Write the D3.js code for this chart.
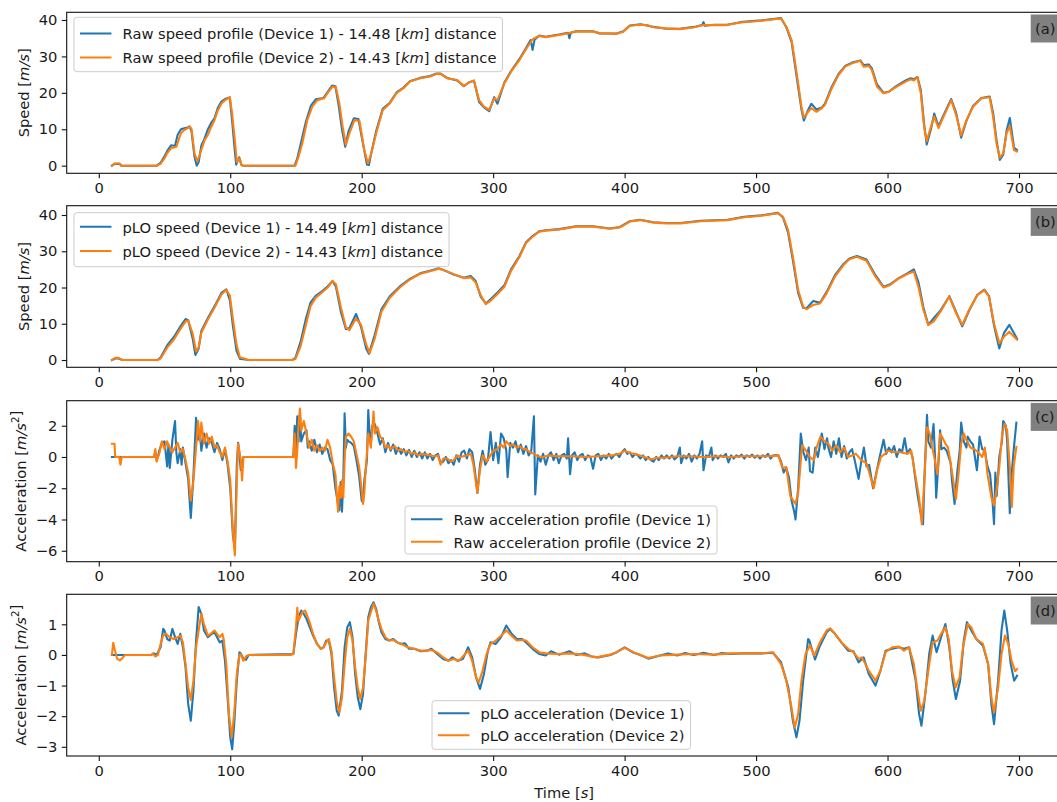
<!DOCTYPE html>
<html>
<head>
<meta charset="utf-8">
<script src="https://cdn.jsdelivr.net/npm/d3@7"></script>
<style>
  body { margin: 0; background: #fff; }
  svg text { font-family: "DejaVu Sans", sans-serif; fill: #1a1a1a; }
</style>
</head>
<body>
<svg id="chart" width="1057" height="802"></svg>
<script>
// ---------------- data ----------------
var timeTicks = [0, 100, 200, 300, 400, 500, 600, 700];
var speedTicks = [0, 10, 20, 30, 40];
var rawAccTicks = [-6, -4, -2, 0, 2];
var ploAccTicks = [-3, -2, -1, 0, 1];

// (a) raw speed [t, m/s]
var rawSpeedDev1 = [[10,0],[12,0.5],[16,0.5],[17,0],[44,0],[47,0.8],[50,2.6],[52,4.0],[55,5.6],[58,5.4],[60,8.5],[62.5,10.0],[65,10.3],[67.6,10.5],[69,10.8],[70.5,9.5],[72.8,2.5],[74.5,0.0],[76,1.0],[78,5.5],[80.5,7.5],[83,10.0],[85.6,11.8],[88,13.0],[90.7,16.0],[93.3,17.6],[96,18.3],[98.4,18.6],[99.7,18.5],[101.5,12],[103.5,4],[104.5,0.3],[106.8,2.3],[108.6,0.1],[110,0],[149,0],[151,2.0],[153.5,5.8],[157.5,12.0],[161.4,16.5],[165,18.2],[171,18.6],[174,20.2],[177.5,22],[180,21.8],[182.5,16.5],[185,10],[187.5,5.2],[190,9.5],[194,13.0],[197.5,12.8],[201,6],[204,0.3],[205.5,0.2],[207,3.0],[211,9.5],[216,15.6],[221.4,17.3],[226.5,20.1],[231.6,21.4],[236.7,23.2],[244.4,24.1],[252,24.6],[257,25.3],[260,25.3],[265,24.1],[272.6,23.4],[277.7,21.8],[281.6,22.9],[285.4,23.3],[289.3,17.5],[293,16],[297,15.0],[300.8,18.8],[303.3,17.0],[308.5,22.8],[313.6,26],[320,29.3],[325,32.3],[328.5,34.5],[330,31.8],[331.5,34.6],[335,35.7],[340,35.4],[350,36.0],[357,36.5],[358,35.0],[359,36.5],[363,36.9],[376,36.9],[381,36.3],[394,36.3],[399,36.9],[404,38.5],[412,38.8],[417,38.5],[422,38.1],[432,37.6],[442,37.6],[453,38.1],[459,38.6],[460,39.4],[461,38.4],[468,38.7],[478,38.7],[488,39.4],[504,39.9],[519,40.5],[523,38.0],[527,34.0],[529.4,28],[532,21.6],[534.5,15.5],[536.3,12.4],[539.6,15.3],[542,17.0],[546,15.4],[550,16.0],[552.4,17.0],[557.5,21.6],[562.7,25.2],[567.8,27.4],[573,28.3],[579.3,28.9],[581.8,27.6],[585.7,27.8],[588,26.8],[592,22.3],[597,20.0],[601,20.3],[606,21.7],[613.8,23.4],[617.6,24.0],[620,23.7],[622.7,24.4],[625.3,20.8],[627.8,11.5],[629.8,5.8],[633,10.0],[635.5,14.3],[638.8,10.8],[642,13.4],[648.4,18.3],[652.2,14.5],[656,7.7],[660,12.3],[665,16.4],[671.4,18.6],[677.7,19.0],[680.3,14.5],[682.9,7.0],[685.4,1.6],[688,3.0],[690.5,9.5],[693,13.1],[696.2,5.0],[698.5,4.3]];
var rawSpeedDev2 = [[10,0],[12,0.6],[16,0.6],[17,0],[44,0],[47,0.5],[50,2.0],[52,3.4],[55,4.8],[59,5.2],[62.5,8.9],[65,9.8],[67.6,10.3],[69,10.7],[70.5,10.2],[72.8,3.4],[75,1.2],[78,4.3],[80.5,7],[83,8.5],[85.6,10.7],[88,12.5],[90.7,15.3],[93.3,17.1],[96,18],[98.4,18.5],[99.7,18.9],[101.5,14],[103.5,7],[105,1.0],[107,2.0],[108.6,0.2],[110,0],[149.6,0],[152,2.5],[154.7,6],[158.6,12.5],[162.4,16.2],[166.3,18],[171.4,18.5],[174,19.9],[177.8,21.7],[180.4,21.5],[183,17.1],[185.5,10.7],[188,5.7],[190.6,8.9],[194.5,12.5],[198.3,12.3],[202,4.3],[204.7,0.6],[207.3,3.4],[211,8.9],[216,15.3],[221.4,17.1],[226.5,19.9],[231.6,21.2],[236.7,23.1],[244.4,24],[252,24.5],[257,25.2],[260,25.2],[265,24],[272.6,23.5],[277.7,21.9],[281.6,22.8],[285.4,23.4],[289.3,18],[293,16.2],[297,15.3],[300.8,18.5],[303.3,18],[308.5,22.6],[313.6,25.8],[320,29],[325,32],[330,34.7],[335,35.6],[340,35.3],[350,35.9],[358,36.4],[363,36.8],[376,36.8],[381,36.4],[394,36.2],[399,36.8],[404,38.4],[412,38.7],[417,38.6],[422,38],[432,37.7],[442,37.5],[453,38],[460,38.6],[468,38.6],[478,38.6],[488,39.3],[504,39.8],[519,40.4],[523,38.2],[527,34.5],[529.4,29],[532,22.6],[534.5,16.2],[536.3,13.2],[539.6,14.8],[542,15.8],[546,14.8],[550,15.8],[552.4,16.7],[557.5,21.2],[562.7,24.9],[567.8,27.2],[573,28.1],[579.3,28.8],[581.8,27.2],[585.7,27.4],[588,26.3],[592,21.7],[597,19.9],[601,20.3],[606,21.5],[613.8,23.1],[617.6,23.7],[620,23.4],[622.7,24.3],[625.3,19.9],[627.8,10.7],[629.8,6.8],[633,10.7],[635.5,13.5],[638.8,10.3],[642,13],[648.4,18],[652.2,13.9],[656,8.3],[660,12.5],[665,16.2],[671.4,18.5],[677.7,18.8],[680.3,13.5],[682.9,6.1],[685.4,2.2],[688,3.4],[690.5,8.9],[693,10.9],[696.2,4.3],[698.5,3.9]];

// (b) pLO speed [t, m/s]
var ploSpeedDev1 = [[10,0],[12.5,0.4],[15,0.4],[18,0],[44.6,0],[47,0.7],[52,4.0],[57.4,6.5],[62.5,9.5],[66,11.3],[68,11.0],[71.5,5.8],[73.5,1.4],[76,3.2],[78,8.0],[83,11.6],[88,14.8],[93.3,18.5],[97,19.5],[99.7,16.5],[102,9.5],[104.8,2.5],[107.4,0.3],[110,0.2],[113.8,0],[147,0],[149.6,0.6],[153.5,5.0],[157.3,11.0],[161,15.8],[165,17.7],[170,19.0],[174,20.3],[177.8,21.8],[180.4,20.2],[184.2,13.2],[188,8.5],[190.6,8.8],[195.7,12.7],[199.6,9.0],[203.4,3.2],[205.5,1.7],[209.8,6.8],[215,14.0],[221.4,17.6],[229,20.3],[236.7,22.4],[244.4,23.9],[252,24.6],[258.5,25.3],[262.4,24.8],[270,23.6],[277.7,22.7],[282.9,23.2],[286.7,21.8],[290.5,17.5],[294.4,15.6],[298.2,16.8],[303.3,18.6],[308.5,20.6],[313.6,25.0],[320,28.7],[325,32.5],[330,34.2],[335,35.5],[340,35.8],[350.4,36.1],[363,36.9],[376,36.9],[388.7,36.3],[396.4,36.7],[404,38.3],[411.8,38.7],[422,38.0],[432,37.8],[442.5,37.8],[457.8,38.4],[478.3,38.7],[491,39.5],[503.8,39.9],[516.6,40.6],[520.5,39.3],[524.3,35.2],[528,27.5],[532,18.5],[535.8,14.4],[538.4,14.3],[543.5,16.3],[548.6,15.8],[553.7,18.8],[560,23.4],[566.5,26.5],[571,28.0],[576.7,28.7],[584,27.7],[590.8,23.4],[597,20.2],[602,20.9],[608.5,22.6],[615,23.9],[620,25.0],[623.5,21.5],[627.3,14.5],[631,9.7],[635,11.5],[640,13.5],[647,17.6],[651.7,13.6],[656.8,9.3],[662,13.6],[668.3,18.0],[673.6,19.4],[677.2,17.6],[681,9.5],[685,3.2],[688.5,7.4],[692.6,9.7],[698.5,5.9]];
var ploSpeedDev2 = [[10,0],[12.5,0.6],[15,0.6],[18,0],[44.6,0],[47,0.4],[52,3.4],[57.4,5.8],[62.5,8.8],[66,10.6],[68,10.9],[71.5,7.2],[74,2.4],[76,3.5],[78,7.5],[83,11.2],[88,14.4],[93.3,18.1],[97,19.4],[99.7,17.8],[102,11.5],[104.8,4.2],[107.4,0.7],[110,0.5],[113.8,0],[147,0],[149.6,0.3],[153.5,3.8],[157.3,9.3],[161,14.8],[165,17.2],[170,18.7],[174,20.0],[177.8,21.8],[180.4,20.9],[184.2,14.5],[188,9.0],[190.6,8.2],[195.7,11.5],[199.6,9.6],[203.4,4.3],[206,1.9],[209.8,5.8],[215,13.3],[221.4,17.2],[229,20.0],[236.7,22.2],[244.4,23.8],[252,24.5],[258.5,25.2],[262.4,24.8],[270,23.7],[277.7,22.6],[282.9,22.8],[286.7,21.4],[290.5,17.9],[294.4,15.4],[298.2,16.4],[303.3,18.2],[308.5,20.2],[313.6,24.6],[320,28.4],[325,32.3],[330,34],[335,35.4],[340,35.7],[350.4,36],[363,36.8],[376,36.8],[388.7,36.2],[396.4,36.6],[404,38.2],[411.8,38.6],[422,37.9],[432,37.7],[442.5,37.7],[457.8,38.3],[478.3,38.6],[491,39.4],[503.8,39.8],[516.6,40.5],[520.5,39.5],[524.3,35.9],[528,28.5],[532,19.3],[535.8,14.7],[538.4,14.0],[543.5,15.2],[548.6,15.6],[553.7,18.4],[560,23],[566.5,26.2],[571,27.8],[576.7,28.5],[584,27.4],[590.8,23],[597,20],[602,20.7],[608.5,22.5],[615,23.7],[620,24.4],[623.5,20.2],[627.3,13.8],[631,9.7],[635,10.6],[640,13.2],[647,17.5],[651.7,13.3],[656.8,9.7],[662,13.8],[668.3,17.9],[673.6,19.3],[677.2,17.5],[681,10.1],[685,4.6],[688.5,6.4],[692.6,7.8],[698.5,5.6]];

// (c) raw acceleration [t, m/s^2]
var rawAccDev1 = [[10,0],[12,0],[15.5,0],[16.5,0],[42,0],[43,0.3],[44,-0.2],[45,0],[46,0.4],[48,0.9],[50,1.0],[52,-0.6],[53,0.8],[54,-0.7],[56,1.1],[58,2.3],[59,0.3],[60,-0.4],[62,0.5],[63,-0.5],[64,0.6],[66,-0.4],[68,-1.4],[70,-3.9],[72,-1.2],[74,2.5],[75.5,1.1],[77,1.6],[78,0.4],[80,1.5],[82,0.6],[84,1.2],[86,0.9],[88,0.3],[90,0.9],[92,0.5],[94,-0.2],[96,0.5],[98,-0.5],[100,-2.0],[102,-5.0],[103.5,-5.9],[105,-0.5],[106,0.9],[107,0.2],[108,-0.85],[109,-0.3],[110,0],[148,0],[149,2.0],[150,0.5],[151,2.6],[152,1.0],[153,2.8],[154,1.0],[156,1.5],[158,1.7],[159,0.6],[160,1.0],[162,0.4],[164,1.1],[166,0.3],[168,0.8],[170,0.2],[172,0.6],[174,0.5],[176,-0.2],[178,-0.5],[180,-2.0],[182,-3.0],[183,-3.4],[184,-1.6],[185,-3.5],[186,-1.5],[187,2.8],[188,0.6],[189,1.1],[190,1.0],[192,0.9],[194,0.7],[196,-0.2],[198,-1.2],[200,-2.8],[201,-2.9],[202,-1.5],[203,-0.85],[204,-0.2],[205,3.0],[206,1.5],[207,1.0],[208,2.0],[210,2.1],[212,1.5],[214,0.8],[216,1.2],[218,0.3],[220,0.9],[222,0.4],[224,0.8],[226,0.2],[228,0.6],[230,0.2],[232,0.5],[234,0.1],[236,0.45],[238,0.0],[240,0.4],[242,0.0],[244,0.3],[246,-0.1],[248,0.3],[250,-0.1],[252,0.2],[254,-0.2],[256,0.1],[258,0.2],[260,-0.4],[262,-0.3],[264,0.0],[266,-0.4],[268,-0.2],[270,-0.5],[272,0.1],[274,-0.3],[276,0.3],[278,0.4],[280,-0.1],[282,0.5],[284,0.3],[286,-0.8],[288,-2.3],[290,-0.5],[292,0.4],[294,-0.5],[296,-0.2],[298,1.6],[300,-0.2],[302,0.9],[304,-0.4],[306,1.5],[308,1.2],[310,0.4],[311,-1.3],[313,0.9],[315,0.6],[317,1.0],[319,0.3],[321,0.8],[323,0.2],[325,0.7],[327,0.1],[329,0.4],[331,2.6],[332,-2.4],[334,0.1],[336,-0.3],[338,0.2],[340,-0.5],[342,0.1],[344,0.3],[346,-0.2],[348,0.2],[350,-0.4],[352,0.1],[354,0.2],[356,-0.1],[357,1.2],[358.5,-1.1],[360,0.1],[362,0.3],[364,-0.2],[366,0.1],[368,0.2],[370,-0.2],[372,0.1],[374,0.0],[376,-0.75],[378,0.1],[380,0.2],[382,-0.2],[384,0.1],[386,-0.1],[388,0.2],[390,-0.1],[392,0.1],[394,0.2],[396,0.0],[398,0.3],[400,0.5],[402,0.2],[404,0.3],[406,0.0],[408,0.2],[410,0.1],[412,-0.1],[414,0.1],[416,-0.2],[418,0.0],[420,-0.2],[422,-0.3],[424,0.0],[426,-0.2],[428,0.1],[430,-0.1],[432,0.1],[434,-0.1],[436,0.1],[438,-0.15],[440,0.0],[442,0.6],[443,-0.4],[445,0.1],[447,-0.1],[449,0.2],[451,-0.3],[453,0.1],[455,-0.1],[457,0.2],[459,1.0],[460,-0.85],[462,0.1],[464,0.0],[466,0.6],[467,-0.2],[469,0.1],[471,-0.1],[473,0.1],[475,0.0],[477,0.2],[479,-0.35],[481,0.1],[483,-0.1],[485,0.1],[487,0.0],[489,0.15],[491,-0.1],[493,0.1],[495,0.0],[497,0.15],[499,-0.05],[501,0.1],[503,-0.1],[505,0.1],[507,0.0],[509,0.2],[511,-0.1],[513,0.1],[515,0.1],[517,0.1],[519,-0.3],[521,-1.0],[523,-0.7],[525,-1.3],[527,-2.8],[529,-3.5],[530,-4.0],[532,-2.0],[534,1.5],[536,0.3],[538,-0.2],[540,0.6],[541,-0.9],[543,-1.0],[545,0.6],[547,0.0],[549,1.0],[550,1.5],[552,0.5],[554,1.2],[555,0.6],[557,0.0],[559,1.0],[561,0.2],[563,1.2],[565,0.0],[567,0.7],[569,-0.1],[571,0.3],[573,0.5],[575,-0.2],[578,-1.4],[580,-0.3],[582,0.6],[584,-0.6],[586,-0.5],[589,-2.0],[591,-1.2],[594,0.0],[597,1.1],[599,0.2],[601,0.6],[603,0.3],[605,0.7],[607,0.0],[609,0.5],[611,0.3],[613,1.2],[615,0.2],[617,0.5],[619,0.0],[621,-1.3],[623,-2.5],[625,-3.5],[627,-4.3],[628,-1.5],[630,2.7],[631,1.0],[633,0.6],[635,2.1],[636,0.2],[637,-2.6],[639,0.0],[640,1.7],[641,0.5],[643,0.6],[645,0.4],[648,-0.4],[649,-1.5],[651,-3.0],[653,-1.0],[655,0.5],[656,2.2],[658,1.0],[660,0.6],[661,1.3],[663,1.0],[665,0.8],[668,-0.85],[670,1.3],[672,0.5],[674,0.4],[676,-0.6],[678,-1.1],[680,-3.0],[681,-4.3],[682,-1.0],[683,-2.5],[685,0.0],[687,1.0],[688,2.3],[690,2.0],[691,1.0],[693,-3.6],[694,-1.5],[696,0.5],[698,2.2]];
var rawAccDev2 = [[10,0.85],[12,0.85],[12.5,0],[15.5,0],[16.5,-0.5],[17.5,0],[42,0],[43,0.5],[44,-0.3],[45,0],[46,0.2],[48,1.0],[50,0.5],[52,1.0],[54,0.6],[56,0.3],[58,0.6],[60,0.9],[62,0.3],[64,0.5],[66,-0.2],[68,-1.0],[70,-2.8],[72,-1.5],[74,0.6],[75.5,2.3],[77,1.0],[78,2.2],[80,0.85],[82,1.5],[84,0.85],[86,1.3],[88,0.6],[90,0.75],[92,0.3],[94,0],[96,0.6],[98,-0.3],[100,-1.5],[102,-4.7],[103.5,-6.3],[105,-1.5],[106,0.85],[108,-0.2],[109,-1.5],[110,0],[148,0],[149,1.5],[150,-0.7],[151,0.4],[152,2.1],[153,3.1],[154,1.7],[156,2.3],[158,1.5],[160,0.6],[162,1.1],[164,0.4],[166,0.75],[168,0.4],[170,0.6],[172,0.4],[174,1.1],[176,0.6],[178,-0.4],[180,-1.1],[182,-3.5],[183,-1.9],[184,-2.6],[185,-1.5],[186,-2.6],[187,-0.2],[188,1.3],[190,1.5],[192,1.3],[194,1.0],[196,0.2],[198,-0.6],[200,-2.1],[201,-3.0],[202,-2.3],[203,-0.85],[205,1.5],[207,0.6],[209,2.9],[210,1.5],[212,1.9],[214,1.3],[216,1.1],[218,0.6],[220,0.75],[222,0.5],[225,0.7],[228,0.4],[230,0.5],[233,0.3],[235,0.4],[238,0.2],[240,0.3],[243,0.1],[245,0.2],[250,0.15],[255,0.05],[258,0.1],[260,-0.5],[262,-0.1],[265,-0.1],[268,-0.3],[270,-0.2],[273,0.1],[275,0.0],[280,0.1],[283,0.2],[285,-0.5],[288,-2.3],[290,-0.8],[292,0.1],[295,-0.3],[298,0.1],[300,0.4],[303,0.5],[306,0.8],[308,0.6],[310,1.0],[313,0.7],[315,0.8],[318,0.6],[320,0.7],[323,0.5],[325,0.5],[328,0.3],[331,0.2],[334,0.05],[338,0.0],[342,0.1],[350,0.05],[360,0.05],[370,0.0],[380,0.05],[390,0.1],[396,0.2],[400,0.4],[404,0.25],[410,0.15],[415,0.0],[420,-0.15],[425,-0.05],[430,-0.05],[440,0.05],[450,0.05],[460,0.0],[470,0.05],[480,0.0],[490,0.05],[500,0.05],[510,0.05],[517,0.1],[520,-0.7],[523,-0.65],[526,-2.5],[530,-3.0],[532,-2.3],[535,0.75],[538,0.4],[541,0.0],[544,-0.2],[546,0.6],[549,1.3],[552,1.0],[555,0.85],[558,0.4],[561,0.75],[564,0.3],[567,0.6],[570,0],[573,0.1],[576,0.2],[580,-0.2],[584,-0.4],[589.5,-2.0],[592,-0.85],[595,0],[598,0.2],[600,0.4],[605,0.3],[610,0.3],[615,0.2],[618,0.4],[621,-1.1],[624,-2.6],[626,-4.3],[628,-1.5],[630,1.9],[632,1.5],[634,0.6],[636,-0.2],[638,-1.1],[640,1.5],[642,1.2],[644,0.85],[646,0.6],[648,-0.4],[650,-1.5],[652,-2.7],[654,-1.1],[656,0.85],[658,1.5],[660,1.1],[663,0.6],[666,0.5],[669,0.3],[672,0],[674,0.6],[676,-1.1],[679,-2.6],[681,-3.1],[683,-2.1],[685,-0.65],[687,1.3],[689,2.1],[691,1.7],[693,-0.65],[694.5,-3.2],[696,-0.6],[698,0.65]];

// (d) pLO acceleration [t, m/s^2]
var ploAccDev1 = [[10,0],[40,0],[42,0.05],[44,0],[47,0.25],[49,0.85],[50,0.8],[52,0.52],[54,0.47],[56,0.85],[58,0.58],[60,0.36],[62,0.69],[64,0.25],[66,-0.4],[68,-1.6],[70,-2.15],[72,-1.17],[74,0.47],[76,1.56],[78,1.34],[80,0.8],[83,0.58],[86,0.69],[88,0.74],[90,0.58],[92,0.41],[94,0.47],[96,-0.19],[98,-1.39],[100,-2.69],[101.5,-3.08],[103,-2.26],[105,-0.84],[107,0.09],[108,0.05],[110,-0.13],[112,-0.16],[114,0],[148,0.03],[150,0.69],[152,1.23],[154,1.45],[156,1.34],[158,1.18],[160,0.96],[163,0.63],[166,0.36],[169,0.2],[171,0.25],[173,0.47],[175,0.47],[177,0.03],[179,-1.06],[181,-1.82],[182.5,-1.98],[185,-1.17],[187,0.25],[189,0.9],[191,1.07],[193,0.58],[195,-0.62],[197,-1.39],[199,-1.77],[201,-1.28],[203,0.03],[205,1.23],[207,1.56],[209,1.72],[211,1.5],[213,1.07],[215,0.74],[218,0.52],[221,0.47],[224,0.52],[227,0.41],[230,0.36],[233,0.38],[236,0.2],[240,0.2],[245,0.12],[250,0.14],[253,0.2],[257,0.05],[262,-0.13],[266,-0.19],[269,-0.08],[273,-0.19],[277,-0.13],[281,0.25],[284,-0.08],[287,-0.73],[290,-1.11],[293,-0.62],[296,0.14],[298,0.41],[302,0.36],[306,0.58],[310,0.96],[314,0.69],[318,0.52],[322,0.52],[325,0.41],[330,0.2],[335,0.03],[340,-0.02],[344,0.12],[350,0.01],[358,0.12],[363,0.0],[369.6,0.05],[375,-0.05],[380,-0.08],[389,0.0],[394,0.09],[400,0.25],[406.6,0.08],[412,0.0],[418,-0.12],[427,-0.02],[433,0.05],[440,-0.02],[446,0.06],[452.7,0.0],[460,0.07],[468,0.0],[474,0.06],[480.8,0.03],[490,0.05],[503.8,0.05],[512.8,0.07],[519,-0.24],[524.5,-1.06],[528,-2.15],[530.7,-2.69],[533,-2.15],[535.8,-0.84],[539.6,0.52],[540.4,0.49],[544.8,-0.15],[548.6,0.3],[553.7,0.74],[556.3,0.85],[560,0.69],[565,0.4],[570,0.14],[574,0.12],[578,-0.24],[581.8,-0.08],[585.7,-0.62],[590.8,-1.0],[594.6,-0.51],[598.5,0.14],[603.6,0.2],[608.7,0.25],[612.5,0.2],[616.4,0.25],[621.4,-0.84],[624,-1.93],[625.8,-2.31],[629,-1.17],[631.7,0.03],[634.3,0.63],[637.3,0.09],[640.7,0.58],[644,1.01],[647,0.25],[649.6,-0.84],[652,-1.44],[655.2,-0.84],[658,0.47],[660.4,1.07],[663.7,0.8],[667.5,0.52],[672.6,0.3],[676.5,-0.3],[679,-1.61],[681,-2.26],[684.1,-0.84],[686.7,0.8],[688.8,1.45],[691,0.8],[693.7,-0.3],[696.3,-0.84],[698.5,-0.68]];
var ploAccDev2 = [[10,0],[11,0.4],[12,0.2],[14,-0.13],[16,-0.18],[18,-0.1],[20,0],[40,0],[41,0.05],[43,-0.05],[45,0],[47,0.36],[49,0.63],[51,0.69],[54,0.58],[57,0.52],[60,0.58],[62,0.63],[64,0.41],[66,-0.3],[68,-1.06],[70,-1.47],[72,-0.84],[74,0.25],[76,0.8],[78,1.34],[80,1.01],[83,0.63],[85,0.69],[88,0.8],[90,0.69],[92,0.58],[94,0.69],[95,0.52],[97,-0.3],[99,-1.93],[101,-2.69],[103,-1.93],[105,-0.62],[107,0],[108,0.03],[110,-0.19],[112,-0.05],[114,0],[146,0],[148,0.03],[150,0.9],[151,1.54],[152,1.12],[153,1.23],[155,1.4],[157,1.45],[160,1.12],[163,0.69],[166,0.36],[169,0.2],[171,0.25],[173,0.41],[175,0.52],[177,0.14],[179,-0.73],[181,-1.5],[183,-1.88],[185,-1.39],[187,-0.3],[189,0.58],[191,0.85],[193,0.47],[195,-0.4],[197,-1.06],[199,-1.44],[201,-1.06],[203,-0.08],[205,1.12],[207,1.4],[209,1.67],[211,1.45],[213,1.12],[215,0.85],[218,0.58],[221,0.47],[224,0.49],[227,0.41],[230,0.36],[235,0.25],[240,0.2],[245,0.14],[250,0.14],[253,0.16],[257,0.09],[262,-0.08],[266,-0.19],[270,-0.13],[274,-0.19],[278,0],[281,0.14],[284,-0.19],[287,-0.73],[289,-0.9],[292,-0.51],[295,0.03],[298,0.36],[302,0.47],[306,0.63],[310,0.8],[314,0.63],[318,0.47],[322,0.49],[325,0.47],[330,0.25],[335,0.09],[340,0.05],[348,0.03],[358,0.05],[368,0.01],[378.5,-0.08],[389,0.01],[394,0.09],[400,0.23],[406.6,0.09],[418,-0.1],[427,-0.02],[440,0.01],[452.7,0.03],[468,0.01],[480.8,0.05],[503.8,0.05],[512.8,0.09],[519,-0.3],[523,-0.84],[526.9,-1.71],[529.4,-2.37],[532,-1.93],[534.5,-0.84],[537.6,0.03],[541,0.31],[544.2,-0.02],[548.6,0.41],[553.7,0.8],[556.3,0.87],[560,0.69],[565,0.41],[570,0.2],[574,0.09],[578,-0.13],[580.5,-0.08],[585.7,-0.51],[590.8,-0.84],[594.6,-0.51],[598.5,0.09],[603.6,0.25],[608.7,0.27],[612.5,0.14],[616.4,0.25],[620,-0.3],[622.8,-1.17],[625.3,-1.82],[627.9,-1.5],[631.7,-0.3],[634.3,0.41],[638,0.47],[640.7,0.69],[644,0.9],[646.5,0.52],[649,-0.51],[651.8,-1.06],[654.8,-0.73],[657.4,0.25],[661,1.01],[663.7,0.9],[667.5,0.52],[672.6,0.36],[676.5,-0.3],[679,-1.39],[681,-1.88],[684.1,-1.06],[686.7,0.03],[689.3,0.63],[691.8,0.36],[694.4,-0.19],[697,-0.53],[698.5,-0.46]];

var legendLabels = [
  ["Raw speed profile (Device 1) - 14.48 [*km*] distance", "Raw speed profile (Device 2) - 14.43 [*km*] distance"],
  ["pLO speed (Device 1) - 14.49 [*km*] distance", "pLO speed (Device 2) - 14.43 [*km*] distance"],
  ["Raw acceleration profile (Device 1)", "Raw acceleration profile (Device 2)"],
  ["pLO acceleration (Device 1)", "pLO acceleration (Device 2)"]
];
var panelTags = ["(a)", "(b)", "(c)", "(d)"];

// ---------------- layout ----------------
var svg = d3.select("#chart");
var colors = ["#1f77b4", "#ff7f0e"];
var FS = 14.7;
var tickLen = 4.9;

var x = d3.scaleLinear().domain([-24.4, 732.4]).range([66.7, 1061.6]);

var panels = [
  {top: 12.3, bottom: 173.3, ydom: [-2.09, 42.11], ticks: speedTicks, ylab: "Speed [*m/s*]", ylabX: 23,
   series: [rawSpeedDev1, rawSpeedDev2], leg: {x: 74, y: 17.3, h: 54.4, rows: [16.2, 40.2]}},
  {top: 205.7, bottom: 367.3, ydom: [-2.01, 42.57], ticks: speedTicks, ylab: "Speed [*m/s*]", ylabX: 23,
   series: [ploSpeedDev1, ploSpeedDev2], leg: {x: 74, y: 212.7, h: 54, rows: [14, 38.3]}},
  {top: 400.7, bottom: 561.7, ydom: [-6.70, 3.60], ticks: rawAccTicks, ylab: "Acceleration [*m/s*^2]", ylabX: 20,
   series: [rawAccDev1, rawAccDev2], leg: {x: 405, y: 506, h: 48, rows: [13.3, 35.7]}},
  {top: 594.3, bottom: 756, ydom: [-3.30, 1.98], ticks: ploAccTicks, ylab: "Acceleration [*m/s*^2]", ylabX: 20,
   series: [ploAccDev1, ploAccDev2], leg: {x: 432, y: 700.7, h: 48.6, rows: [12.6, 34.6]}}
];

// writes "a [*b*] c^2" as tspans: *..* italic, ^n superscript
function richText(sel, str) {
  var parts = str.split(/(\*[^*]+\*|\^\d)/).filter(function(s) { return s.length; });
  parts.forEach(function(p) {
    if (p[0] === "*") {
      sel.append("tspan").style("font-style", "italic").text(p.slice(1, -1));
    } else if (p[0] === "^") {
      sel.append("tspan").attr("dy", -5).style("font-size", (FS * 0.7) + "px").text(p.slice(1));
      sel.append("tspan").attr("dy", 5).text("");
    } else {
      sel.append("tspan").text(p);
    }
  });
}

var intFmt = d3.format("d");

panels.forEach(function(p, i) {
  var y = d3.scaleLinear().domain(p.ydom).range([p.bottom, p.top]);
  var g = svg.append("g");

  var line = d3.line()
    .x(function(d) { return x(d[0]); })
    .y(function(d) { return y(d[1]); });

  p.series.forEach(function(s, k) {
    g.append("path")
      .datum(s)
      .attr("d", line)
      .attr("fill", "none")
      .attr("stroke", colors[k])
      .attr("stroke-width", 2.1)
      .attr("stroke-linejoin", "round")
      .attr("stroke-linecap", "square");
  });

  // frame
  g.append("rect")
    .attr("x", x.range()[0]).attr("y", p.top)
    .attr("width", x.range()[1] - x.range()[0]).attr("height", p.bottom - p.top)
    .attr("fill", "none").attr("stroke", "#111").attr("stroke-width", 1.1);

  // axes
  var xa = g.append("g").attr("transform", "translate(0," + p.bottom + ")")
    .call(d3.axisBottom(x).tickValues(timeTicks).tickFormat(intFmt)
      .tickSizeInner(tickLen).tickSizeOuter(0).tickPadding(4.4));
  var ya = g.append("g").attr("transform", "translate(" + x.range()[0] + ",0)")
    .call(d3.axisLeft(y).tickValues(p.ticks).tickFormat(intFmt)
      .tickSizeInner(tickLen).tickSizeOuter(0).tickPadding(4.4));
  [xa, ya].forEach(function(a) {
    a.select(".domain").remove();
    a.selectAll(".tick line").attr("stroke", "#111").attr("stroke-width", 1.1);
    a.selectAll(".tick text").style("font-size", FS + "px").attr("fill", "#1a1a1a");
  });

  // y label
  var yl = g.append("text")
    .attr("transform", "translate(" + p.ylabX + "," + ((p.top + p.bottom) / 2) + ") rotate(-90)")
    .attr("text-anchor", "middle")
    .attr("dominant-baseline", "central")
    .style("font-size", FS + "px");
  richText(yl, p.ylab);

  // legend
  var L = p.leg;
  var lg = g.append("g").attr("transform", "translate(" + L.x + "," + L.y + ")");
  var box = lg.append("rect").attr("rx", 2.8).attr("ry", 2.8)
    .attr("height", L.h).attr("fill", "#fff").attr("fill-opacity", 0.8)
    .attr("stroke", "#ccc").attr("stroke-width", 1);
  var maxW = 0;
  legendLabels[i].forEach(function(lab, k) {
    lg.append("line")
      .attr("x1", 7).attr("x2", 36.4)
      .attr("y1", L.rows[k]).attr("y2", L.rows[k])
      .attr("stroke", colors[k]).attr("stroke-width", 2.1).attr("stroke-linecap", "square");
    var t = lg.append("text")
      .attr("x", 48.5).attr("y", L.rows[k])
      .attr("dominant-baseline", "central")
      .style("font-size", FS + "px");
    richText(t, lab);
    maxW = Math.max(maxW, t.node().getComputedTextLength());
  });
  box.attr("width", 48.5 + maxW + 6);

  // panel tag
  svg.append("rect").attr("x", 1030.7).attr("y", p.top + 2.2)
    .attr("width", 40).attr("height", 28).attr("fill", "#808080");
  svg.append("text").attr("x", 1035).attr("y", p.top + 16.2)
    .attr("dominant-baseline", "central")
    .style("font-size", FS + "px").text(panelTags[i]);
});

// x label
var xl = svg.append("text")
  .attr("x", (x.range()[0] + x.range()[1]) / 2).attr("y", 797.5)
  .attr("text-anchor", "middle")
  .style("font-size", FS + "px");
richText(xl, "Time [*s*]");
</script>
</body>
</html>
